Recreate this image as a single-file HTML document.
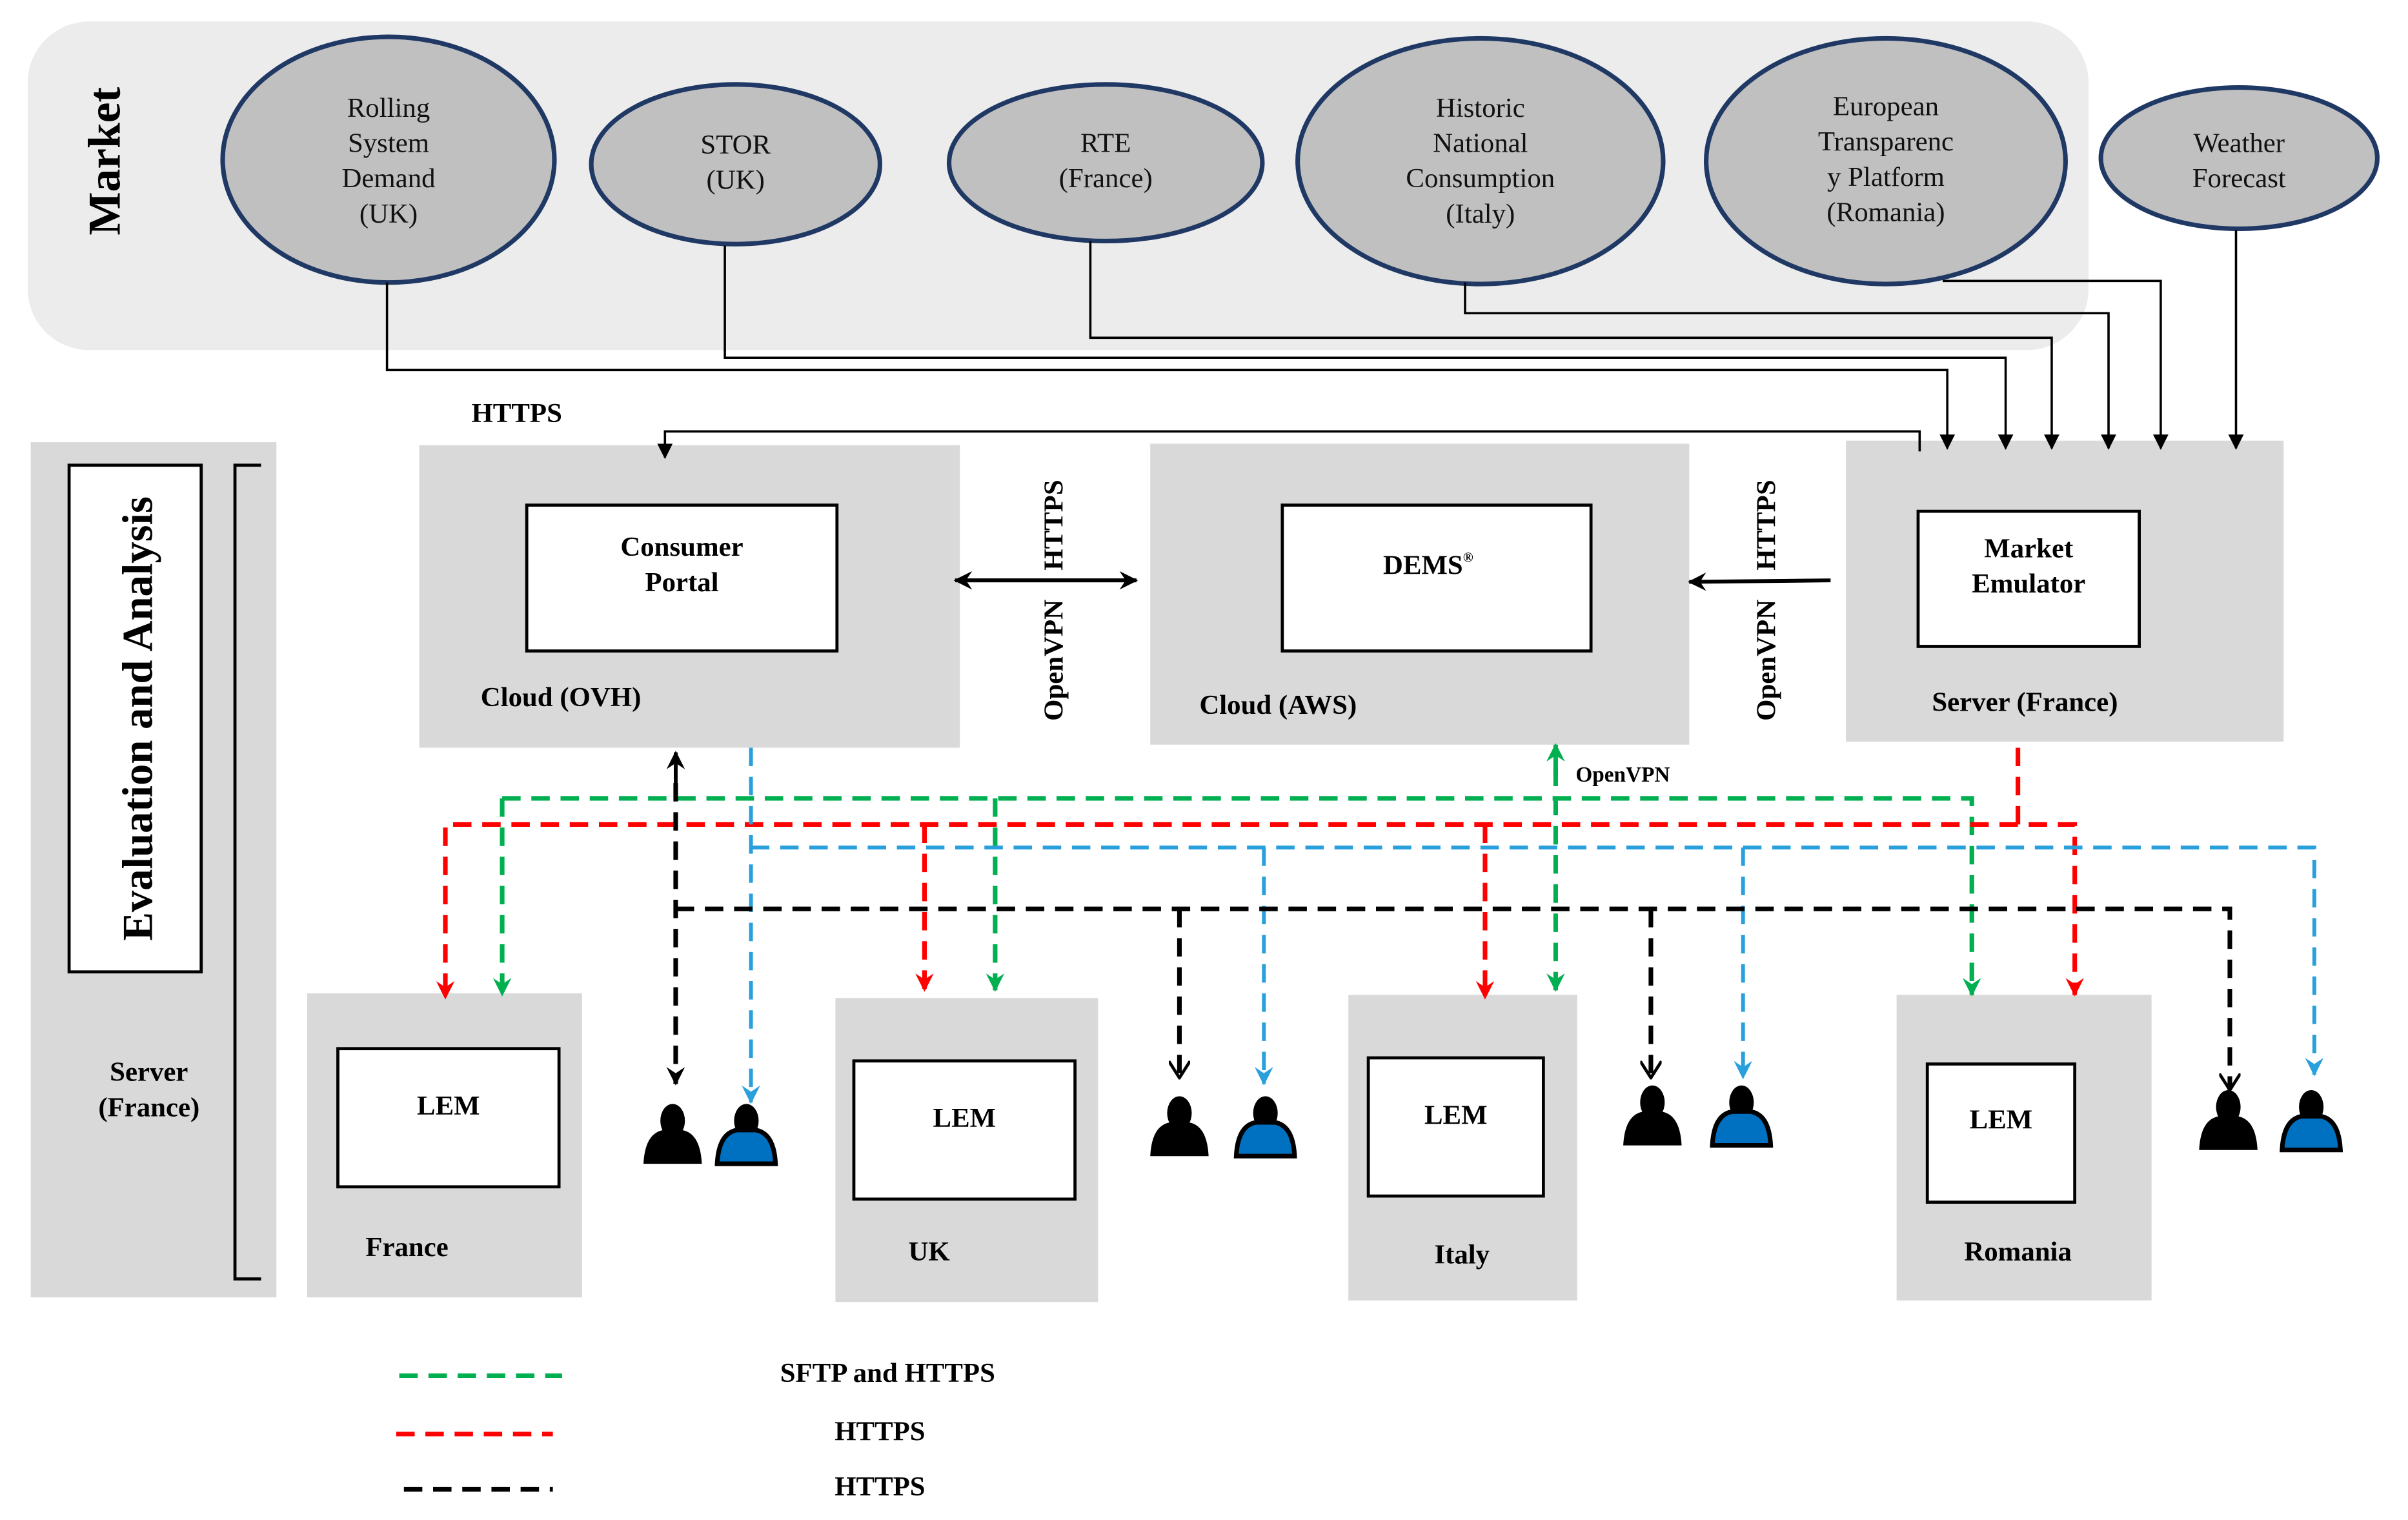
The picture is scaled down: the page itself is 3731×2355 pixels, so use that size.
<!DOCTYPE html>
<html><head><meta charset="utf-8"><style>
html,body{margin:0;padding:0;background:#fff;}
svg{display:block;}
text{font-family:"Liberation Serif",serif;}
.b{font-weight:bold;}
</style></head><body>
<svg width="3731" height="2355" viewBox="0 0 1568 990" preserveAspectRatio="none" xmlns="http://www.w3.org/2000/svg">
<defs>
<marker id="ak" markerWidth="10" markerHeight="10" refX="9" refY="5" orient="auto" markerUnits="userSpaceOnUse"><path d="M0,0 L10,5 L0,10 z" fill="#000"/></marker>
<marker id="ag" markerWidth="12" markerHeight="12" refX="11" refY="6" orient="auto" markerUnits="userSpaceOnUse"><path d="M0,0 L12,6 L0,12 L4,6 z" fill="#00b050"/></marker>
<marker id="ar" markerWidth="12" markerHeight="12" refX="11" refY="6" orient="auto" markerUnits="userSpaceOnUse"><path d="M0,0 L12,6 L0,12 L4,6 z" fill="#ff0000"/></marker>
<marker id="ab" markerWidth="12" markerHeight="12" refX="11" refY="6" orient="auto" markerUnits="userSpaceOnUse"><path d="M0,0 L12,6 L0,12 L4,6 z" fill="#29a0dc"/></marker>
<marker id="akk" markerWidth="12" markerHeight="12" refX="11" refY="6" orient="auto" markerUnits="userSpaceOnUse"><path d="M0,0 L12,6 L0,12 L4,6 z" fill="#000"/></marker>
<marker id="ako" markerWidth="12" markerHeight="14" refX="11" refY="7" orient="auto" markerUnits="userSpaceOnUse"><path d="M0,0 L11,7 L0,14" fill="none" stroke="#000" stroke-width="2"/></marker>
</defs>

<rect x="18" y="14" width="1342" height="214" rx="40" fill="#ececec"/>
<text class="b" font-size="30" transform="translate(78,105) rotate(-90)" text-anchor="middle">Market</text>

<g fill="#c0c0c0" stroke="#1f3864" stroke-width="3">
<ellipse cx="253" cy="104" rx="108" ry="80"/>
<ellipse cx="479" cy="107" rx="94" ry="52"/>
<ellipse cx="720" cy="106" rx="102" ry="51"/>
<ellipse cx="964" cy="105" rx="119" ry="80"/>
<ellipse cx="1228" cy="105" rx="117" ry="80"/>
<ellipse cx="1458" cy="103" rx="90" ry="46"/>
</g>
<g font-size="18" text-anchor="middle" fill="#111">
<text x="253" y="76">Rolling</text><text x="253" y="99">System</text><text x="253" y="122">Demand</text><text x="253" y="145">(UK)</text>
<text x="479" y="100">STOR</text><text x="479" y="123">(UK)</text>
<text x="720" y="99">RTE</text><text x="720" y="122">(France)</text>
<text x="964" y="76">Historic</text><text x="964" y="99">National</text><text x="964" y="122">Consumption</text><text x="964" y="145">(Italy)</text>
<text x="1228" y="75">European</text><text x="1228" y="98">Transparenc</text><text x="1228" y="121">y Platform</text><text x="1228" y="144">(Romania)</text>
<text x="1458" y="99">Weather</text><text x="1458" y="122">Forecast</text>
</g>

<text class="b" x="307" y="275" font-size="18">HTTPS</text>

<rect x="20" y="288" width="160" height="557" fill="#d9d9d9"/>
<rect x="45" y="303" width="86" height="330" fill="#fff" stroke="#000" stroke-width="2"/>
<text class="b" font-size="28" transform="translate(99,468) rotate(-90)" text-anchor="middle">Evaluation and Analysis</text>
<text class="b" x="97" y="704" font-size="18" text-anchor="middle">Server</text>
<text class="b" x="97" y="727" font-size="18" text-anchor="middle">(France)</text>
<polyline points="170,303 153,303 153,833 170,833" fill="none" stroke="#000" stroke-width="2"/>

<rect x="273" y="290" width="352" height="197" fill="#d9d9d9"/>
<rect x="343" y="329" width="202" height="95" fill="#fff" stroke="#000" stroke-width="2"/>
<text class="b" x="444" y="362" font-size="18" text-anchor="middle">Consumer</text>
<text class="b" x="444" y="385" font-size="18" text-anchor="middle">Portal</text>
<text class="b" x="313" y="460" font-size="18">Cloud (OVH)</text>

<rect x="749" y="289" width="351" height="196" fill="#d9d9d9"/>
<rect x="835" y="329" width="201" height="95" fill="#fff" stroke="#000" stroke-width="2"/>
<text class="b" x="930" y="374" font-size="18" text-anchor="middle">DEMS<tspan font-size="9" dy="-8">®</tspan></text>
<text class="b" x="781" y="465" font-size="18">Cloud (AWS)</text>

<rect x="1202" y="287" width="285" height="196" fill="#d9d9d9"/>
<rect x="1249" y="333" width="144" height="88" fill="#fff" stroke="#000" stroke-width="2"/>
<text class="b" x="1321" y="363" font-size="18" text-anchor="middle">Market</text>
<text class="b" x="1321" y="386" font-size="18" text-anchor="middle">Emulator</text>
<text class="b" x="1258" y="463" font-size="18">Server (France)</text>

<g fill="none" stroke="#000" stroke-width="1.5">
<polyline points="252,184 252,241 1268,241 1268,292" marker-end="url(#ak)"/>
<polyline points="472,160 472,233 1306,233 1306,292" marker-end="url(#ak)"/>
<polyline points="710,157 710,220 1336,220 1336,292" marker-end="url(#ak)"/>
<polyline points="954,184 954,204 1373,204 1373,292" marker-end="url(#ak)"/>
<polyline points="1265,183 1407,183 1407,292" marker-end="url(#ak)"/>
<polyline points="1456,150 1456,292" marker-end="url(#ak)"/>
<polyline points="1250,294 1250,281 433,281 433,298" marker-end="url(#ak)"/>
</g>

<line x1="630" y1="378" x2="740" y2="378" stroke="#000" stroke-width="2.5" marker-end="url(#akk)"/>
<line x1="740" y1="378" x2="622" y2="378" stroke="#000" stroke-width="2.5" marker-end="url(#akk)"/>
<text class="b" font-size="18" transform="translate(692,342) rotate(-90)" text-anchor="middle">HTTPS</text>
<text class="b" font-size="18" transform="translate(692,430) rotate(-90)" text-anchor="middle">OpenVPN</text>
<line x1="1192" y1="378" x2="1100" y2="379" stroke="#000" stroke-width="2.5" marker-end="url(#akk)"/>
<text class="b" font-size="18" transform="translate(1156,342) rotate(-90)" text-anchor="middle">HTTPS</text>
<text class="b" font-size="18" transform="translate(1156,430) rotate(-90)" text-anchor="middle">OpenVPN</text>

<rect x="200" y="647" width="179" height="198" fill="#d9d9d9"/>
<rect x="220" y="683" width="144" height="90" fill="#fff" stroke="#000" stroke-width="2"/>
<text class="b" x="292" y="726" font-size="18" text-anchor="middle">LEM</text>
<text class="b" x="265" y="818" font-size="18" text-anchor="middle">France</text>

<rect x="544" y="650" width="171" height="198" fill="#d9d9d9"/>
<rect x="556" y="691" width="144" height="90" fill="#fff" stroke="#000" stroke-width="2"/>
<text class="b" x="628" y="734" font-size="18" text-anchor="middle">LEM</text>
<text class="b" x="605" y="821" font-size="18" text-anchor="middle">UK</text>

<rect x="878" y="648" width="149" height="199" fill="#d9d9d9"/>
<rect x="891" y="689" width="114" height="90" fill="#fff" stroke="#000" stroke-width="2"/>
<text class="b" x="948" y="732" font-size="18" text-anchor="middle">LEM</text>
<text class="b" x="952" y="823" font-size="18" text-anchor="middle">Italy</text>

<rect x="1235" y="648" width="166" height="199" fill="#d9d9d9"/>
<rect x="1255" y="693" width="96" height="90" fill="#fff" stroke="#000" stroke-width="2"/>
<text class="b" x="1303" y="735" font-size="18" text-anchor="middle">LEM</text>
<text class="b" x="1314" y="821" font-size="18" text-anchor="middle">Romania</text>

<g fill="none" stroke-width="3" stroke-dasharray="12,7">
<g stroke="#00b050">
<polyline points="327,520 1284,520 1284,648" marker-end="url(#ag)"/>
<line x1="327" y1="520" x2="327" y2="648" marker-end="url(#ag)"/>
<line x1="648" y1="520" x2="648" y2="645" marker-end="url(#ag)"/>
<line x1="1013" y1="500" x2="1013" y2="645" marker-end="url(#ag)"/>
</g>
<g stroke="#ff0000">
<polyline points="1314,487 1314,537 1351,537 1351,648" marker-end="url(#ar)"/>
<polyline points="1314,537 290,537 290,650" marker-end="url(#ar)"/>
<line x1="602" y1="537" x2="602" y2="645" marker-end="url(#ar)"/>
<line x1="967" y1="537" x2="967" y2="650" marker-end="url(#ar)"/>
</g>
<g stroke="#29a0dc" stroke-width="2.5">
<polyline points="489,487 489,718" marker-end="url(#ab)"/>
<polyline points="489,552 1507,552 1507,700" marker-end="url(#ab)"/>
<line x1="823" y1="552" x2="823" y2="706" marker-end="url(#ab)"/>
<line x1="1135" y1="552" x2="1135" y2="702" marker-end="url(#ab)"/>
</g>
<g stroke="#000">
<line x1="440" y1="510" x2="440" y2="706" marker-end="url(#akk)"/>
<polyline points="440,592 1452,592 1452,710" marker-end="url(#ako)"/>
<line x1="768" y1="592" x2="768" y2="702" marker-end="url(#ako)"/>
<line x1="1075" y1="592" x2="1075" y2="702" marker-end="url(#ako)"/>
</g>
</g>
<line x1="440" y1="515" x2="440" y2="490" stroke="#000" stroke-width="2.5" marker-end="url(#akk)"/>
<line x1="1013" y1="505" x2="1013" y2="485" stroke="#00b050" stroke-width="3" marker-end="url(#ag)"/>
<text class="b" x="1026" y="509" font-size="14">OpenVPN</text>

<g>
<g transform="translate(438,738)"><ellipse cx="0" cy="-8" rx="8" ry="11" fill="#000"/><path d="M-19,20 Q-18,0 -6,-2 L6,-2 Q18,0 19,20 Z" fill="#000"/></g>
<g transform="translate(486,738)"><ellipse cx="0" cy="-8" rx="8" ry="11" fill="#000"/><path d="M-19,20 Q-18,0 -6,-2 L6,-2 Q18,0 19,20 Z" fill="#0070c0" stroke="#000" stroke-width="3"/></g>
<g transform="translate(768,733)"><ellipse cx="0" cy="-8" rx="8" ry="11" fill="#000"/><path d="M-19,20 Q-18,0 -6,-2 L6,-2 Q18,0 19,20 Z" fill="#000"/></g>
<g transform="translate(824,733)"><ellipse cx="0" cy="-8" rx="8" ry="11" fill="#000"/><path d="M-19,20 Q-18,0 -6,-2 L6,-2 Q18,0 19,20 Z" fill="#0070c0" stroke="#000" stroke-width="3"/></g>
<g transform="translate(1076,726)"><ellipse cx="0" cy="-8" rx="8" ry="11" fill="#000"/><path d="M-19,20 Q-18,0 -6,-2 L6,-2 Q18,0 19,20 Z" fill="#000"/></g>
<g transform="translate(1134,726)"><ellipse cx="0" cy="-8" rx="8" ry="11" fill="#000"/><path d="M-19,20 Q-18,0 -6,-2 L6,-2 Q18,0 19,20 Z" fill="#0070c0" stroke="#000" stroke-width="3"/></g>
<g transform="translate(1451,729)"><ellipse cx="0" cy="-8" rx="8" ry="11" fill="#000"/><path d="M-19,20 Q-18,0 -6,-2 L6,-2 Q18,0 19,20 Z" fill="#000"/></g>
<g transform="translate(1505,729)"><ellipse cx="0" cy="-8" rx="8" ry="11" fill="#000"/><path d="M-19,20 Q-18,0 -6,-2 L6,-2 Q18,0 19,20 Z" fill="#0070c0" stroke="#000" stroke-width="3"/></g>
</g>

<g stroke-width="3" stroke-dasharray="12,7">
<line x1="260" y1="896" x2="366" y2="896" stroke="#00b050"/>
<line x1="258" y1="934" x2="360" y2="934" stroke="#ff0000"/>
<line x1="263" y1="970" x2="360" y2="970" stroke="#000"/>
</g>
<text class="b" x="578" y="900" font-size="18" text-anchor="middle">SFTP and HTTPS</text>
<text class="b" x="573" y="938" font-size="18" text-anchor="middle">HTTPS</text>
<text class="b" x="573" y="974" font-size="18" text-anchor="middle">HTTPS</text>
</svg>
</body></html>
